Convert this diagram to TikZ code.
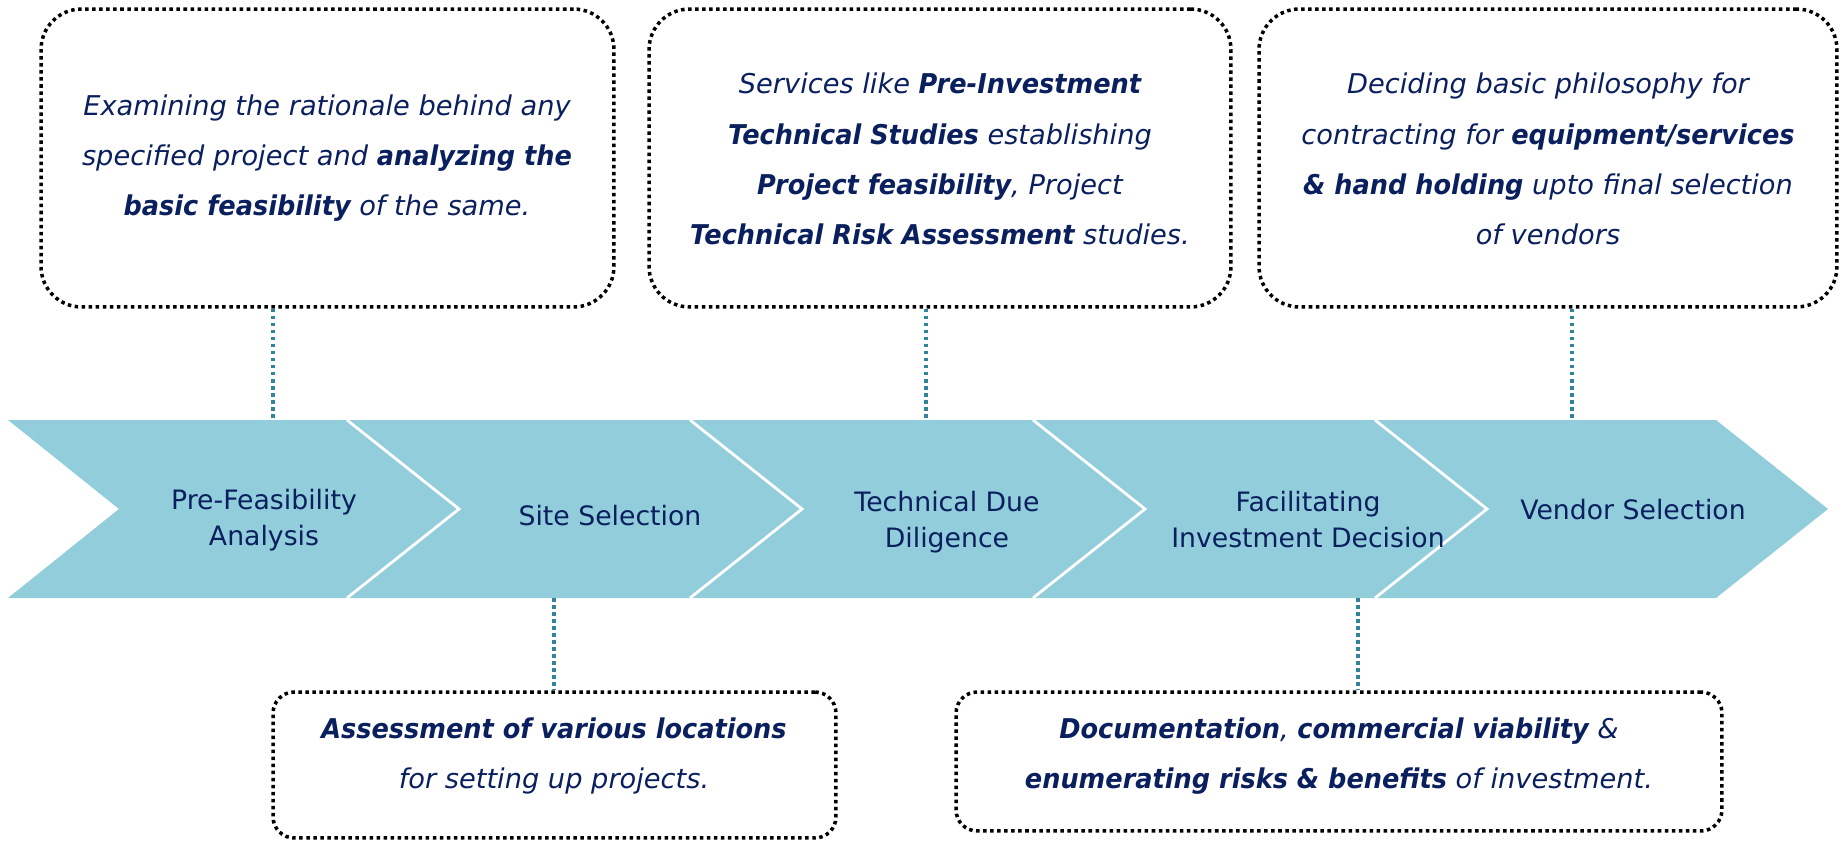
\documentclass[tikz,border=0pt]{standalone}
\usepackage{fontspec}
\setmainfont{DejaVu Sans}
\newfontfamily\bnar[FakeStretch=0.94]{DejaVu Sans}
\newcommand\bi[1]{{\bnar\bfseries\itshape #1}}
\definecolor{navy}{HTML}{0A1F5E}
\definecolor{chev}{HTML}{92CDDC}
\definecolor{tealline}{HTML}{31849B}
\begin{document}
\begin{tikzpicture}[x=0.02cm,y=-0.02cm,
  box/.style={draw=black, line width=2pt, dash pattern=on 2pt off 2pt, rounded corners=23pt, inner sep=0pt},
  sbox/.style={box, rounded corners=12pt},
  conn/.style={draw=tealline, line width=2.2pt, dash pattern=on 2pt off 2pt},
  desc/.style={text=navy, align=center, inner sep=0pt, font=\itshape\fontsize{15.5}{28.6}\selectfont},
  stage/.style={text=navy, align=center, inner sep=0pt, font=\fontsize{15.2}{20.5}\selectfont},
  sep/.style={draw=white, line width=1.6pt}]
\useasboundingbox (0,0) rectangle (1840,841);
% chevron band
\fill[chev] (8,420) -- (1716,420) -- (1828,509) -- (1716,598) -- (8,598) -- (119,509) -- cycle;
\draw[sep] (347,420) -- (459,509) -- (347,598);
\draw[sep] (690,420) -- (802,509) -- (690,598);
\draw[sep] (1033,420) -- (1145,509) -- (1033,598);
\draw[sep] (1375,420) -- (1487,509) -- (1375,598);
% stage labels
\node[stage] (s1) at (264,520) {Pre-Feasibility\\Analysis};
\node[stage] (s2) at (610,516) {Site Selection};
\node[stage] (s3) at (947,522) {Technical Due\\Diligence};
\node[stage] (s4) at (1308,520) {Facilitating\\Investment Decision};
\node[stage] (s5) at (1633,510) {Vendor Selection};
% boxes
\node[box, minimum width=11.46cm, minimum height=5.96cm] (b1) at (327.5,158) {};
\node[box, minimum width=11.64cm, minimum height=5.96cm] (b2) at (940,158) {};
\node[box, minimum width=11.56cm, minimum height=5.96cm] (b3) at (1548,158) {};
\node[sbox, minimum width=11.26cm, minimum height=2.92cm] (b4) at (554.5,765) {};
\node[sbox, minimum width=15.32cm, minimum height=2.78cm] (b5) at (1339,761.5) {};
% texts
\node[desc] (t1) at (327,158) {Examining the rationale behind any\\specified project and \bi{analyzing the}\\\bi{basic feasibility} of the same.};
\node[desc] (t2) at (940,159) {Services like \bi{Pre-Investment}\\\bi{Technical Studies} establishing\\\bi{Project feasibility}, Project\\\bi{Technical Risk Assessment} studies.};
\node[desc] (t3) at (1548,159) {Deciding basic philosophy for\\contracting for \bi{equipment/services}\\\bi{\& hand holding} upto final selection\\of vendors};
\node[desc] (t4) at (554,756) {\bi{Assessment of various locations}\\for setting up projects.};
\node[desc] (t5) at (1339,756) {\bi{Documentation}, \bi{commercial viability} \&\\\bi{enumerating risks \& benefits} of investment.};
% connectors
\coordinate (k1) at (273,420);
\coordinate (k2) at (926,420);
\coordinate (k3) at (1572,420);
\coordinate (k4) at (554,598);
\coordinate (k5) at (1358,598);
\draw[conn] (b1.south -| k1) -- (k1);
\draw[conn] (b2.south -| k2) -- (k2);
\draw[conn] (b3.south -| k3) -- (k3);
\draw[conn] (k4) -- (b4.north -| k4);
\draw[conn] (k5) -- (b5.north -| k5);
\end{tikzpicture}
\end{document}
